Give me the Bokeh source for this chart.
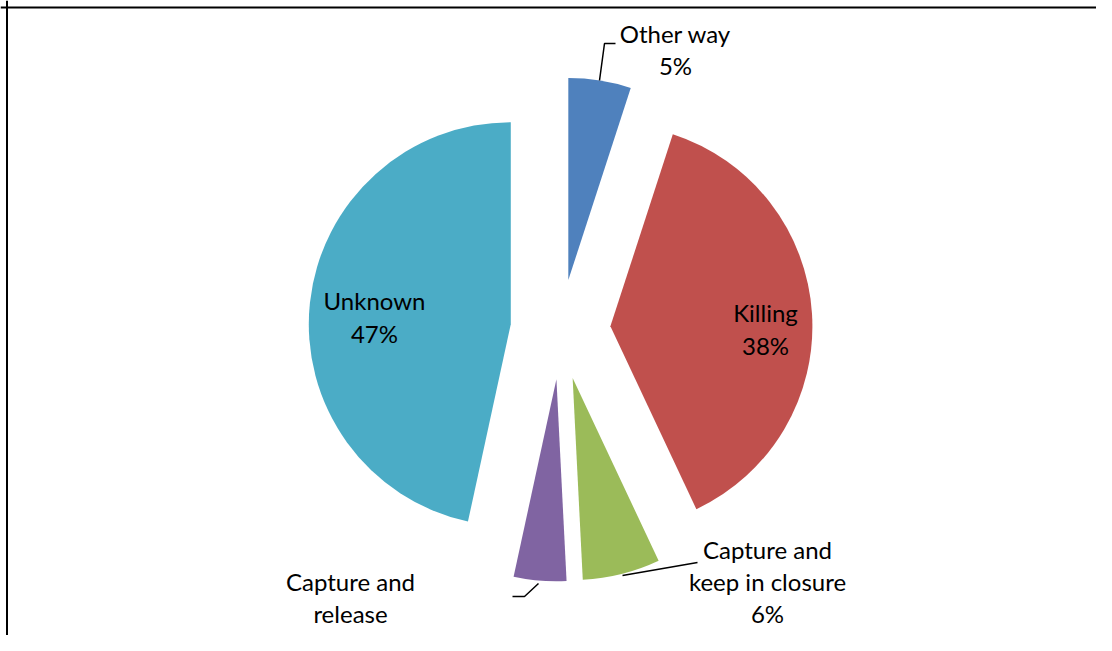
import math
from bokeh.plotting import figure
from bokeh.models import Range1d, Span, ColumnDataSource
from bokeh.embed import file_html
from bokeh.resources import INLINE
from bokeh.core.properties import value

# ---- data ----
categories = ["Other way", "Killing", "Capture and keep in closure", "Capture and release", "Unknown"]
values = [5, 38, 6.2, 4.2, 46.6]
colors = ["#4F81BD", "#C0504D", "#9BBB59", "#8064A2", "#4BACC6"]
label_names = ["Other way", "Killing", "Capture and\nkeep in closure", "Capture and\nrelease", "Unknown"]
show_pct = [True, True, True, False, True]   # the 4% of "Capture and release" is cut off in the original

# ---- layout (pixel coordinates of the reference picture) ----
REF_H = 651
W, H = 1096, 635
def sy(y):
    return REF_H - y

cx, cy = 560.0, sy(329.0)
R = 202.0
EXPLODE = 50.0

label_pos = [(675, 49), (765, 328.5), (767, 581), (350, 597), (374, 316.5)]
leaders = [
    [(599, 80), (604, 43), (615, 43)],
    [],
    [(622, 575), (697, 562)],
    [(538, 583), (524, 596), (512, 596)],
    [],
]

p = figure(width=W, height=H,
           x_range=Range1d(0, W), y_range=Range1d(sy(H), sy(0)),
           output_backend="svg", toolbar_location=None,
           x_axis_type=None, y_axis_type=None, min_border=0,
           outline_line_color=None)
p.background_fill_color = "white"
p.border_fill_color = "white"

total = float(sum(values))
xs, ys, starts, ends = [], [], [], []
cum = 0.0
for v in values:
    a0 = cum / total * 2 * math.pi
    a1 = (cum + v) / total * 2 * math.pi
    mid = (a0 + a1) / 2
    xs.append(cx + EXPLODE * math.sin(mid))
    ys.append(cy + EXPLODE * math.cos(mid))
    starts.append(math.pi / 2 - a1)
    ends.append(math.pi / 2 - a0)
    cum += v

src = ColumnDataSource(dict(x=xs, y=ys, start=starts, end=ends, color=colors, cat=categories))
p.wedge(x="x", y="y", radius=R, start_angle="start", end_angle="end",
        fill_color="color", line_color=None, source=src)

# labels
texts = []
for name, v, sp in zip(label_names, values, show_pct):
    texts.append(f"{name}\n{round(v)}%" if sp else name)
lsrc = ColumnDataSource(dict(x=[q[0] for q in label_pos], y=[sy(q[1]) for q in label_pos], text=texts))
p.text(x="x", y="y", text="text", source=lsrc,
       text_font=value("Lato"), text_font_size="24px", text_color="black",
       text_align="center", text_baseline="middle", text_line_height=1.12)

# leader lines
lx = [[pt[0] for pt in l] for l in leaders if l]
ly = [[sy(pt[1]) for pt in l] for l in leaders if l]
p.multi_line(xs=lx, ys=ly, line_color="black", line_width=1.5)

# frame (left and top edges of the cropped chart area)
p.add_layout(Span(location=6.5, dimension="height", line_color="black", line_width=2))
p.add_layout(Span(location=sy(7), dimension="width", line_color="black", line_width=2))

open("out.html", "w").write(file_html(p, INLINE))
